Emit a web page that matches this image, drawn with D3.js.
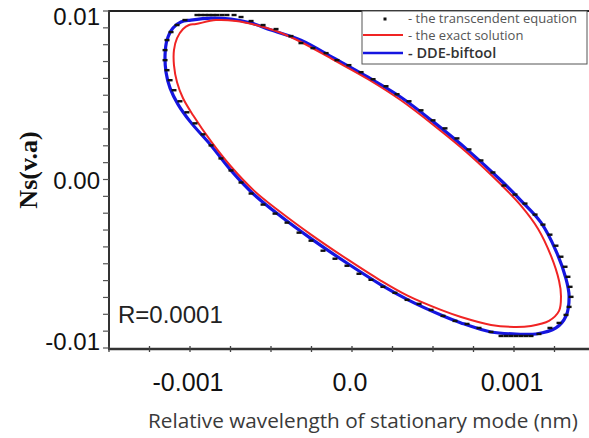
<!DOCTYPE html>
<html><head><meta charset="utf-8">
<script src="https://cdn.jsdelivr.net/npm/d3@7"></script>
<style>html,body{margin:0;padding:0;background:#fff;}svg{display:block;}</style>
</head><body>
<script>
// ---- data (x: nm, y: Ns) ----
const ddeX = [-0.000994,-0.000870,-0.000747,-0.000623,-0.000500,-0.000315,-0.000111,0.000099,0.000302,0.000506,0.000716,0.000920,0.001043,0.001167,0.001259,0.001321,0.001340,0.001321,0.001259,0.001136,0.001012,0.000858,0.000673,0.000549,0.000346,0.000179,-0.000025,-0.000253,-0.000438,-0.000605,-0.000747,-0.000870,-0.001000,-0.001074,-0.001123,-0.001148,-0.001154,-0.001142,-0.001105,-0.001056];
const ddeY = [0.00946,0.00958,0.00952,0.00929,0.00887,0.00827,0.00720,0.00607,0.00488,0.00339,0.00173,-0.00006,-0.00125,-0.00256,-0.00423,-0.00589,-0.00691,-0.00810,-0.00881,-0.00917,-0.00917,-0.00905,-0.00851,-0.00804,-0.00714,-0.00625,-0.00500,-0.00351,-0.00220,-0.00089,0.00054,0.00202,0.00345,0.00446,0.00542,0.00637,0.00738,0.00827,0.00899,0.00935];

const exactX = [-0.000963,-0.000840,-0.000716,-0.000593,-0.000469,-0.000315,-0.000111,0.000099,0.000302,0.000506,0.000716,0.000920,0.001043,0.001148,0.001228,0.001278,0.001290,0.001278,0.001216,0.001105,0.001000,0.000858,0.000673,0.000549,0.000346,0.000179,-0.000025,-0.000253,-0.000438,-0.000605,-0.000747,-0.000870,-0.000981,-0.001043,-0.001080,-0.001099,-0.001099,-0.001080,-0.001043,-0.001006];
const exactY = [0.00923,0.00946,0.00941,0.00917,0.00881,0.00816,0.00708,0.00595,0.00470,0.00321,0.00155,-0.00030,-0.00155,-0.00292,-0.00452,-0.00601,-0.00691,-0.00780,-0.00839,-0.00869,-0.00875,-0.00863,-0.00816,-0.00774,-0.00691,-0.00601,-0.00476,-0.00327,-0.00196,-0.00066,0.00077,0.00226,0.00381,0.00482,0.00577,0.00679,0.00768,0.00839,0.00893,0.00917];

const transX = [-0.000957,-0.000932,-0.000907,-0.000883,-0.000858,-0.000833,-0.000802,-0.000772,-0.000728,-0.000685,-0.000623,-0.000549,-0.000469,-0.000377,-0.000315,-0.000241,-0.000160,-0.000093,-0.000019,0.000056,0.000130,0.000210,0.000278,0.000352,0.000426,0.000500,0.000574,0.000648,0.000722,0.000796,0.000870,0.000938,0.001006,0.001068,0.001130,0.001179,0.001222,0.001259,0.001290,0.001315,0.001333,0.001346,0.001352,0.001340,0.001321,0.001278,0.001222,0.001154,0.001105,0.001074,0.001043,0.001012,0.000981,0.000951,0.000920,0.000858,0.000784,0.000710,0.000636,0.000562,0.000488,0.000414,0.000340,0.000265,0.000191,0.000117,0.000043,-0.000031,-0.000105,-0.000179,-0.000253,-0.000327,-0.000401,-0.000475,-0.000549,-0.000623,-0.000685,-0.000747,-0.000809,-0.000870,-0.000920,-0.000969,-0.001019,-0.001062,-0.001099,-0.001123,-0.001142,-0.001154,-0.001154,-0.001142,-0.001117,-0.001080,-0.001031];
const transY = [0.009762,0.009762,0.009762,0.009762,0.009762,0.009762,0.009762,0.009762,0.009762,0.009643,0.009405,0.009167,0.008929,0.008512,0.008095,0.007798,0.007500,0.007083,0.006786,0.006369,0.005952,0.005536,0.005060,0.004643,0.004107,0.003512,0.003036,0.002440,0.001786,0.001131,0.000417,-0.000357,-0.000893,-0.001429,-0.002083,-0.002679,-0.003274,-0.003929,-0.004583,-0.005179,-0.005774,-0.006369,-0.006964,-0.007560,-0.008036,-0.008512,-0.008810,-0.009167,-0.009286,-0.009286,-0.009286,-0.009286,-0.009286,-0.009286,-0.009286,-0.009048,-0.008810,-0.008571,-0.008393,-0.008095,-0.007738,-0.007381,-0.007143,-0.006726,-0.006369,-0.005952,-0.005595,-0.005119,-0.004702,-0.004226,-0.003631,-0.003155,-0.002560,-0.002024,-0.001488,-0.000833,-0.000179,0.000536,0.001250,0.002024,0.002679,0.003333,0.003988,0.004643,0.005298,0.005893,0.006488,0.007083,0.007679,0.008274,0.008750,0.009167,0.009464];

const xTicks = [-0.001, 0.0, 0.001];
const xTickLabels = ["-0.001", "0.0", "0.001"];
const yTicks = [0.01, 0.0, -0.01];
const yTickLabels = ["0.01", "0.00", "-0.01"];
const legendLabels = ["- the transcendent equation", "- the exact solution", "- DDE-biftool"];
const rText = "R=0.0001";
const xTitle = "Relative wavelength of stationary mode (nm)";
const yTitle = "Ns(v.a)";

// ---- layout ----
const W = 589, H = 438;
const svg = d3.select("body").append("svg").attr("width", W).attr("height", H);
const x = d3.scaleLinear().domain([-0.0015, 0.0015]).range([109, 595]);
const y = d3.scaleLinear().domain([-0.01, 0.01]).range([348, 11]);

const axisColor = "#333";

// curves
const line = d3.line().x(d => x(d[0])).y(d => y(d[1])).curve(d3.curveCatmullRomClosed);
const exact = exactX.map((v, i) => [v, exactY[i]]);
const dde = ddeX.map((v, i) => [v, ddeY[i]]);
svg.append("path").attr("d", line(dde)).attr("fill", "none").attr("stroke", "#1515e0").attr("stroke-width", 3.2);
svg.append("path").attr("d", line(exact)).attr("fill", "none").attr("stroke", "#f02424").attr("stroke-width", 2);

svg.append("g").selectAll("rect").data(transX.map((v, i) => [v, transY[i]])).join("rect")
  .attr("x", d => x(d[0]) - 2.5).attr("y", d => y(d[1]) - 1.2)
  .attr("width", 5).attr("height", 2.4).attr("fill", "#111");

// frame top line
svg.append("line").attr("x1", 109).attr("x2", W).attr("y1", 11).attr("y2", 11)
  .attr("stroke", "#222").attr("stroke-width", 1.8);

// y axis
const yMinor = d3.range(-10, 11).map(k => k * 0.001);
const ya = svg.append("g");
ya.append("line").attr("x1", 109).attr("x2", 109).attr("y1", 10).attr("y2", 349).attr("stroke", axisColor).attr("stroke-width", 2);
ya.selectAll("line.t").data(yMinor).join("line").attr("class", "t")
  .attr("x1", 103).attr("x2", 109).attr("y1", d => y(d)).attr("y2", d => y(d))
  .attr("stroke", "#555").attr("stroke-width", 1.2);
const yOff = [6, 1, -6];
ya.selectAll("text").data(yTicks).join("text")
  .attr("x", 100).attr("y", (d, i) => y(d) + yOff[i]).attr("dy", "0.35em")
  .attr("text-anchor", "end").attr("font-family", "Liberation Sans, Arial, sans-serif")
  .attr("font-size", 24).attr("fill", "#111").text((d, i) => yTickLabels[i]);

// x axis
const xMinor = d3.range(-6, 7).map(k => k * 0.00025);
const xa = svg.append("g");
xa.append("line").attr("x1", 108).attr("x2", W).attr("y1", 349).attr("y2", 349).attr("stroke", axisColor).attr("stroke-width", 2.6);
xa.selectAll("line.t").data(xMinor).join("line").attr("class", "t")
  .attr("x1", d => x(d)).attr("x2", d => x(d)).attr("y1", 346).attr("y2", 352)
  .attr("stroke", "#444").attr("stroke-width", 1.3);
xa.selectAll("text").data(xTicks).join("text")
  .attr("x", d => x(d) - 2).attr("y", 391)
  .attr("text-anchor", "middle").attr("font-family", "Liberation Sans, Arial, sans-serif")
  .attr("font-size", 25).attr("fill", "#111").text((d, i) => xTickLabels[i]);

// titles
const xt = svg.append("text").attr("x", 148).attr("y", 428)
  .attr("font-family", "Open Sans, Noto Sans, sans-serif").attr("font-size", 18)
  .attr("fill", "#3a3a3a").text(xTitle);
const xtw = xt.node().getComputedTextLength();
xt.attr("font-size", 18 * 430 / xtw);

svg.append("text").attr("transform", "translate(37,170) rotate(-90)")
  .attr("text-anchor", "middle").attr("font-family", "Liberation Serif, Times New Roman, serif")
  .attr("font-weight", "bold").attr("font-size", 26).attr("fill", "#111").text(yTitle);

svg.append("text").attr("x", 118).attr("y", 323)
  .attr("font-family", "Liberation Sans, Arial, sans-serif").attr("font-size", 24)
  .attr("fill", "#222").text(rText);

// legend
const lg = svg.append("g");
lg.append("rect").attr("x", 362).attr("y", 11).attr("width", 225).attr("height", 53)
  .attr("fill", "#fff").attr("stroke", "#555").attr("stroke-width", 1);
lg.append("rect").attr("x", 383.5).attr("y", 17.5).attr("width", 3).attr("height", 3).attr("fill", "#111");
lg.append("line").attr("x1", 363).attr("x2", 403).attr("y1", 35).attr("y2", 35).attr("stroke", "#f02424").attr("stroke-width", 2);
lg.append("line").attr("x1", 363).attr("x2", 403).attr("y1", 53).attr("y2", 53).attr("stroke", "#1515e0").attr("stroke-width", 2.5);
const lgFont = "Open Sans, Noto Sans, sans-serif";
lg.append("text").attr("x", 408).attr("y", 23).attr("font-family", lgFont).attr("font-size", 13).attr("fill", "#555").text(legendLabels[0]);
lg.append("text").attr("x", 408).attr("y", 40).attr("font-family", lgFont).attr("font-size", 13).attr("fill", "#555").text(legendLabels[1]);
lg.append("text").attr("x", 408).attr("y", 58).attr("font-family", lgFont).attr("font-size", 14.5).attr("font-weight", 600).attr("fill", "#333").text(legendLabels[2]);
</script>
</body></html>
